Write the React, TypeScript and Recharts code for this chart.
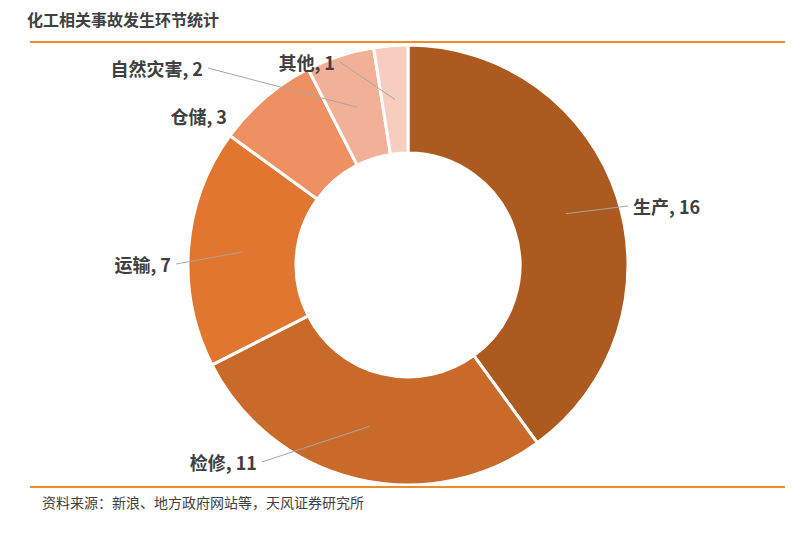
import React from "react";
import { PieChart, Pie, Cell } from "recharts";

const categories = ["生产", "检修", "运输", "仓储", "自然灾害", "其他"];
const counts = [16, 11, 7, 3, 2, 1];
const colors = ["#AD5A21", "#C9692A", "#E0762F", "#EE9062", "#F2B196", "#F7CDBF"];

// label anchor offsets from the pie centre (layout only)
const labelEnds: { dx: number; dy: number; anchor: "start" | "end"; line: boolean }[] = [
  { dx: 220, dy: -59, anchor: "start", line: true },
  { dx: -146, dy: 197, anchor: "end", line: true },
  { dx: -232, dy: -1, anchor: "end", line: true },
  { dx: -176, dy: -149, anchor: "end", line: false },
  { dx: -200, dy: -197, anchor: "end", line: true },
  { dx: -68, dy: -203, anchor: "end", line: true },
];

const data = categories.map((name, i) => ({ name, value: counts[i] }));

const RAD = Math.PI / 180;
const FONT = "'Noto Sans CJK SC', 'Noto Sans', sans-serif";

const renderLabel = (props: any) => {
  const { cx, cy, midAngle, innerRadius, outerRadius, index, name, value } = props;
  const r = (innerRadius + outerRadius) / 2;
  const x0 = cx + r * Math.cos(-midAngle * RAD);
  const y0 = cy + r * Math.sin(-midAngle * RAD);
  const cfg = labelEnds[index];
  const x1 = cx + cfg.dx;
  const y1 = cy + cfg.dy;
  const tx = cfg.anchor === "start" ? x1 + 5 : x1 - 5;
  return (
    <g key={`lbl-${index}`}>
      {cfg.line && (
        <polyline
          points={`${x0},${y0} ${x1},${y1}`}
          fill="none"
          stroke="#A6A6A6"
          strokeWidth={1}
        />
      )}
      <text
        x={tx}
        y={y1}
        textAnchor={cfg.anchor}
        dominantBaseline="central"
        fill="#404040"
        fontSize={18}
        fontWeight="bold"
        fontFamily={FONT}
      >
        {`${name}, ${value}`}
      </text>
    </g>
  );
};

export default function App() {
  return (
    <div
      style={{
        position: "absolute",
        left: 0,
        top: 0,
        width: 792,
        height: 536,
        background: "#fff",
        fontFamily: FONT,
      }}
    >
      <div
        style={{
          position: "absolute",
          left: 27,
          top: 8,
          fontSize: 16,
          fontWeight: "bold",
          color: "#404040",
          lineHeight: "22px",
        }}
      >
        化工相关事故发生环节统计
      </div>
      <div
        style={{
          position: "absolute",
          left: 30,
          top: 41,
          width: 755,
          height: 2,
          background: "#ED8A2C",
        }}
      />
      <div style={{ position: "absolute", left: 0, top: 0 }}>
        <PieChart width={792} height={536} margin={{ top: 0, right: 0, bottom: 0, left: 0 }}>
          <Pie
            data={data}
            dataKey="value"
            nameKey="name"
            cx={408}
            cy={265}
            innerRadius={112}
            outerRadius={220}
            startAngle={90}
            endAngle={-270}
            stroke="#FFFFFF"
            strokeWidth={3}
            isAnimationActive={false}
            label={renderLabel}
            labelLine={false}
          >
            {data.map((d, i) => (
              <Cell key={d.name} fill={colors[i]} />
            ))}
          </Pie>
        </PieChart>
      </div>
      <div
        style={{
          position: "absolute",
          left: 30,
          top: 486,
          width: 755,
          height: 2,
          background: "#ED8A2C",
        }}
      />
      <div
        style={{
          position: "absolute",
          left: 42,
          top: 492,
          fontSize: 14,
          color: "#404040",
          lineHeight: "20px",
        }}
      >
        资料来源：新浪、地方政府网站等，天风证券研究所
      </div>
    </div>
  );
}
